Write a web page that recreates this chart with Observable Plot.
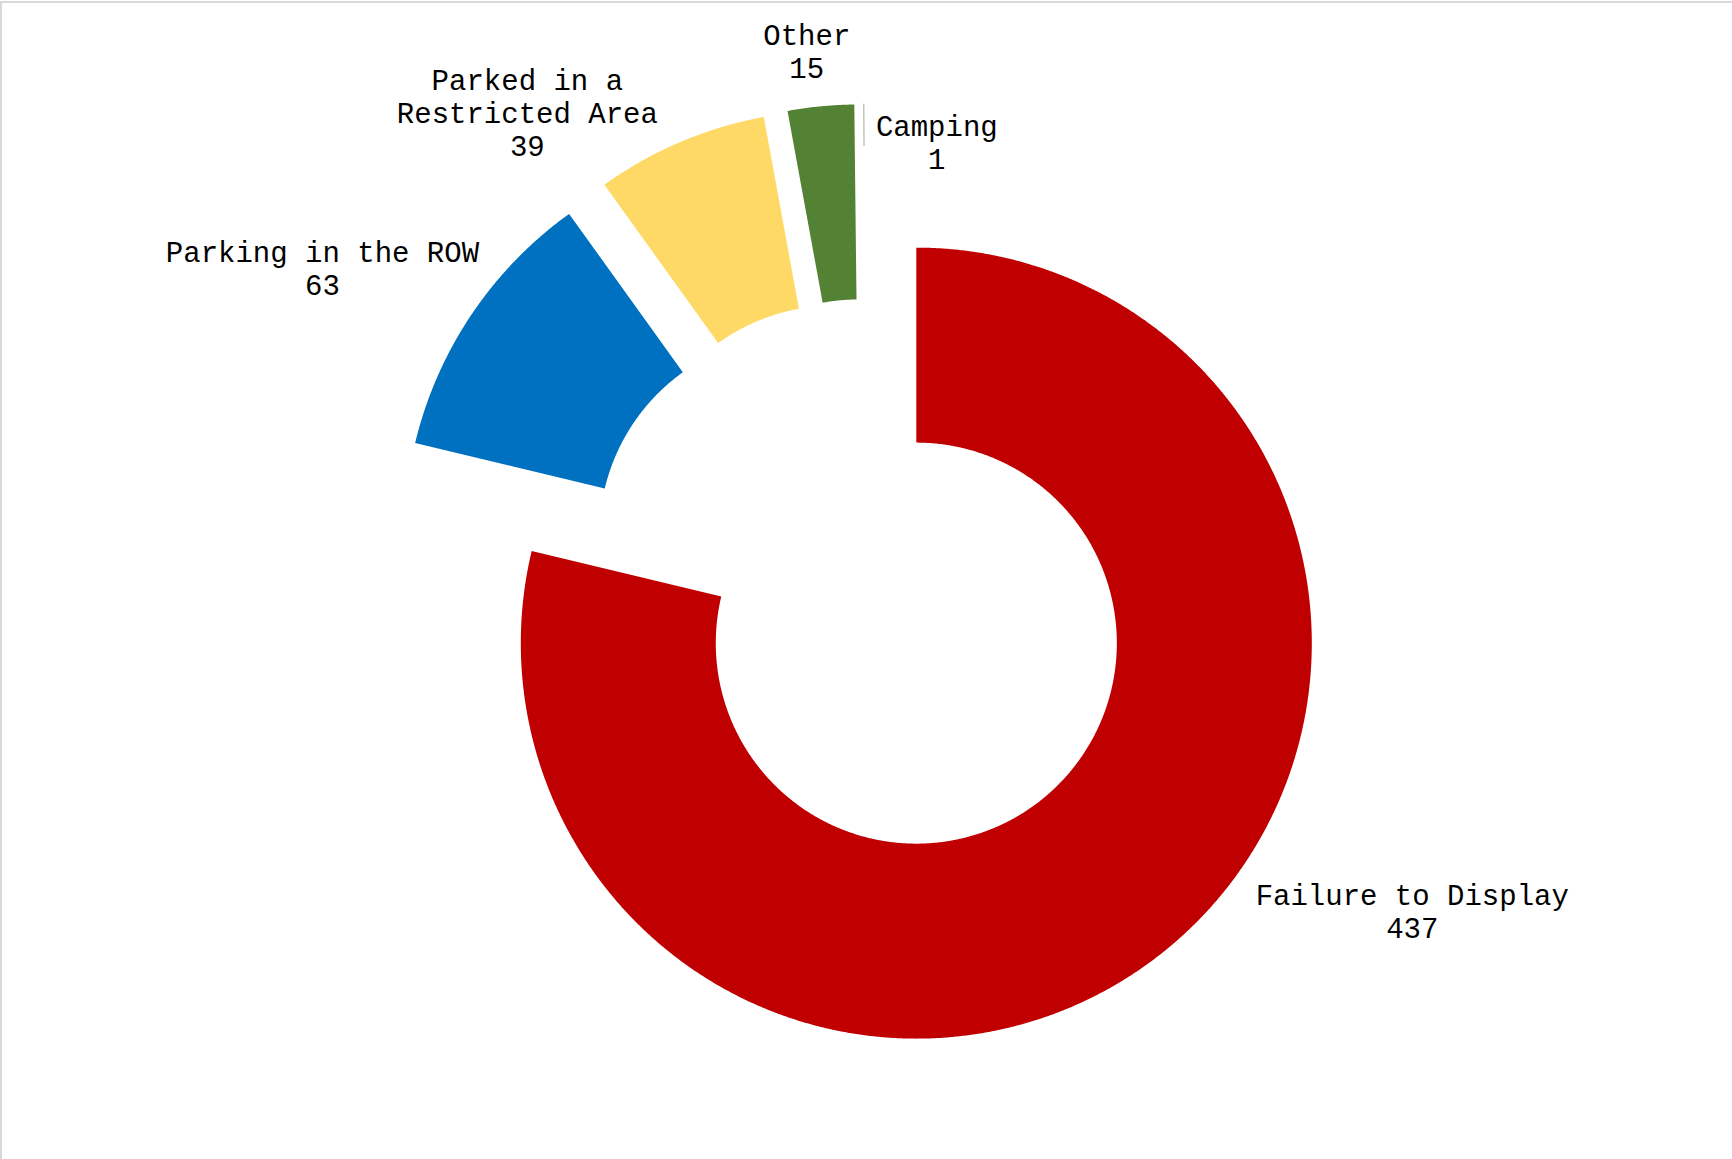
<!DOCTYPE html>
<html>
<head>
<meta charset="utf-8">
<script src="https://cdn.jsdelivr.net/npm/d3@7"></script>
<script src="https://cdn.jsdelivr.net/npm/@observablehq/plot@0.6"></script>
<style>
html, body { margin: 0; padding: 0; background: #ffffff; overflow: hidden; }
#wrap { position: relative; width: 1732px; height: 1159px; }
#wrap svg { position: absolute; left: 0; top: 0; }
#frame { position: absolute; left: 0; top: 1px; width: 1760px; height: 1200px; border-top: 2px solid #d9d9d9; border-left: 2px solid #d9d9d9; box-sizing: border-box; pointer-events: none; }
</style>
</head>
<body>
<div id="wrap"><div id="frame"></div></div>
<script>
// ---- data ----
const categories = ["Failure to Display", "Parking in the ROW", "Parked in a Restricted Area", "Other", "Camping"];
const counts = [437, 63, 39, 15, 1];
const labelText = ["Failure to Display", "Parking in the ROW", "Parked in a\nRestricted Area", "Other", "Camping"];

// ---- style ----
const colors = ["#C00000", "#0070C0", "#FFD966", "#548235", "#FFFFFF"];
// label nudges (px) from each slice's outer mid point
const labelNudgeX = [251, -149, -153, -14, 73];
const labelNudgeY = [-43, -47, -30, -55, 38];

const W = 1732, H = 1159;
const holeRatio = 0.507;   // inner / outer radius
const explode = 0.2033;    // explosion, as a fraction of outer radius
const pxPerUnit = 395.5;   // outer radius in px
const xHalf = W / 2 / pxPerUnit, yHalf = H / 2 / pxPerUnit;

const rows = categories.map((c, i) => ({category: c, count: counts[i], label: labelText[i] + "\n" + counts[i]}));
const arcs = d3.pie().sort(null).value(d => d.count).startAngle(0).endAngle(2 * Math.PI)(rows);

const slicePts = [];
const labelPts = [];
const leaderPts = [];
arcs.forEach((a, i) => {
  const mid = (a.startAngle + a.endAngle) / 2;
  const ox = explode * Math.sin(mid), oy = explode * Math.cos(mid);
  const n = Math.max(2, Math.ceil((a.endAngle - a.startAngle) / (Math.PI / 720)));
  for (let k = 0; k <= n; k++) {
    const t = a.startAngle + (a.endAngle - a.startAngle) * k / n;
    slicePts.push({category: a.data.category, x: ox + Math.sin(t), y: oy + Math.cos(t)});
  }
  for (let k = n; k >= 0; k--) {
    const t = a.startAngle + (a.endAngle - a.startAngle) * k / n;
    slicePts.push({category: a.data.category, x: ox + holeRatio * Math.sin(t), y: oy + holeRatio * Math.cos(t)});
  }
  labelPts.push({
    label: a.data.label,
    x: (1 + explode) * Math.sin(mid) + labelNudgeX[i] / pxPerUnit,
    y: (1 + explode) * Math.cos(mid) - labelNudgeY[i] / pxPerUnit
  });
  if (a.data.count === d3.min(counts)) {
    leaderPts.push({x: ox + Math.sin(mid), y: oy + Math.cos(mid)});
    leaderPts.push({x: ox + 0.895 * Math.sin(mid), y: oy + 0.895 * Math.cos(mid)});
  }
});

const chart = Plot.plot({
  width: W,
  height: H,
  margin: 0,
  x: {domain: [-xHalf, xHalf], axis: null},
  y: {domain: [-yHalf, yHalf], axis: null},
  color: {domain: categories, range: colors},
  style: {background: "transparent"},
  marks: [
    Plot.line(slicePts, {x: "x", y: "y", z: "category", fill: "category", stroke: "none", curve: "linear-closed"}),
    Plot.line(leaderPts, {x: "x", y: "y", stroke: "#a6a6a6", strokeWidth: 1}),
    Plot.text(labelPts, {
      x: "x", y: "y", text: "label",
      fontSize: 29, lineHeight: 1.138,
      fontFamily: "'Courier New', 'Liberation Mono', monospace",
      fill: "#000000", textAnchor: "middle"
    })
  ]
});
document.getElementById("wrap").prepend(chart);
</script>
</body>
</html>
